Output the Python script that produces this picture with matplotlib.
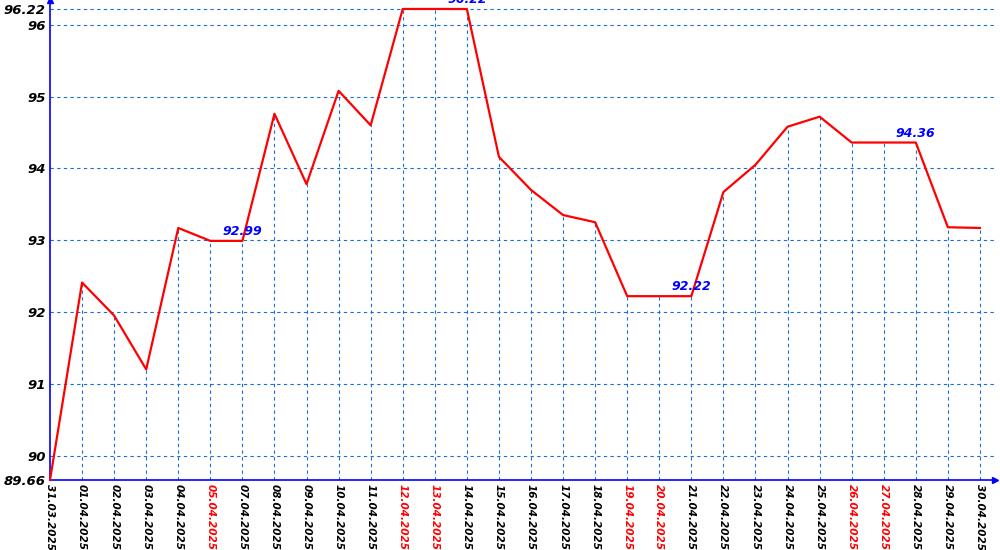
import matplotlib
matplotlib.use("Agg")
import matplotlib.pyplot as plt

dates = ["31.03.2025", "01.04.2025", "02.04.2025", "03.04.2025", "04.04.2025",
         "05.04.2025", "07.04.2025", "08.04.2025", "09.04.2025", "10.04.2025",
         "11.04.2025", "12.04.2025", "13.04.2025", "14.04.2025", "15.04.2025",
         "16.04.2025", "17.04.2025", "18.04.2025", "19.04.2025", "20.04.2025",
         "21.04.2025", "22.04.2025", "23.04.2025", "24.04.2025", "25.04.2025",
         "26.04.2025", "27.04.2025", "28.04.2025", "29.04.2025", "30.04.2025"]
values = [89.66, 92.41, 91.95, 91.20, 93.17, 92.99, 92.99, 94.76, 93.78, 95.08,
          94.60, 96.22, 96.22, 96.22, 94.16, 93.70, 93.35, 93.25, 92.22, 92.22,
          92.22, 93.67, 94.05, 94.58, 94.72, 94.36, 94.36, 94.36, 93.18, 93.17]
weekend = ["05.04.2025", "12.04.2025", "13.04.2025", "19.04.2025", "20.04.2025",
           "26.04.2025", "27.04.2025"]
# labels shown above the end of flat runs
marks = [("07.04.2025", 92.99), ("14.04.2025", 96.22),
         ("21.04.2025", 92.22), ("28.04.2025", 94.36)]
yticks = [89.66, 90, 91, 92, 93, 94, 95, 96, 96.22]

BLUE = "#0000ff"
GRID = "#1a6fd6"

fig = plt.figure(figsize=(10, 5.5), dpi=100)
ax = fig.add_axes([0.05, 0.1273, 0.945, 0.8727])

x = list(range(len(dates)))
ax.plot(x, values, color="#ff0000", lw=1.6, zorder=3, clip_on=False)

for d, v in marks:
    ax.text(dates.index(d), v + 0.04, f"{v:.2f}", color=BLUE, fontsize=9,
            fontweight="bold", fontstyle="italic", ha="center", va="bottom")

ax.set_xlim(0, len(dates) - 1 + 0.47)
ax.set_ylim(89.66, 96.345)

ax.set_xticks(x)
ax.set_xticklabels(dates, rotation=270, fontsize=7.5, fontweight="bold",
                   fontstyle="italic", va="top", ha="center")
for lbl in ax.get_xticklabels():
    if lbl.get_text() in weekend:
        lbl.set_color("#ff0000")

ax.set_yticks(yticks)
ax.set_yticklabels([f"{t:g}" if t in (89.66, 96.22) else f"{t:.0f}" for t in yticks],
                   fontsize=9.5, fontweight="bold", fontstyle="italic")
ax.tick_params(length=0, pad=3)

# drop lines from each point down to the x axis
ax.vlines(x[1:], 89.66, values[1:], color=GRID, lw=0.8, ls=(0, (3, 3)), zorder=1)
for yt in yticks[1:]:
    ax.axhline(yt, color=GRID, lw=0.8, ls=(0, (3, 3)), zorder=1)

for s in ["top", "right"]:
    ax.spines[s].set_visible(False)
for s in ["left", "bottom"]:
    ax.spines[s].set_color(BLUE)
    ax.spines[s].set_linewidth(1.2)

# arrow heads on the axes
ax.plot(1, 0, ">", color=BLUE, ms=5, transform=ax.transAxes, clip_on=False)
ax.plot(0, 1, "^", color=BLUE, ms=5, transform=ax.transAxes, clip_on=False)

fig.savefig("out.png", dpi=100)
